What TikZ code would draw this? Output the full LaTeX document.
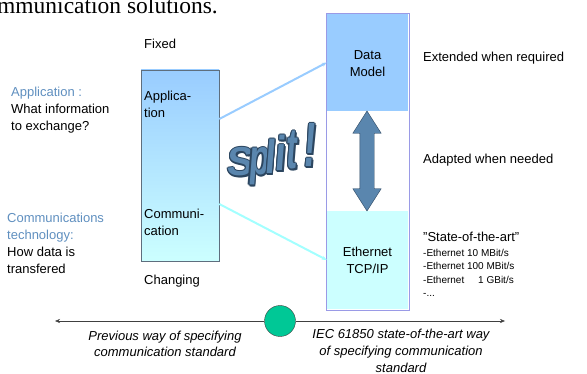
\documentclass[tikz,border=0pt]{standalone}
\usepackage{fontspec}
\setmainfont{Liberation Sans}
\newfontfamily\headfont{Liberation Serif}
\usetikzlibrary{positioning, arrows.meta, shapes.arrows, calc}
\definecolor{appblue}{HTML}{99CCFF}
\definecolor{comcyan}{HTML}{CCFFFF}
\definecolor{labelblue}{HTML}{5F8FBF}
\definecolor{splitblue}{HTML}{5A86AE}
\definecolor{splitdark}{HTML}{2C4660}
\definecolor{boxgray}{HTML}{5E6E7E}
\definecolor{boxlilac}{HTML}{9A9AE6}
\definecolor{pivotgreen}{HTML}{00C896}

\begin{document}
\begin{tikzpicture}[
      x=1pt, y=-1pt,
      every node/.style={font=\fontsize{13}{17}\selectfont, inner sep=0pt},
      label/.style={align=left, anchor=base west},
      small/.style={font=\fontsize{10}{13.6}\selectfont, align=left, anchor=base west},
      caption/.style={font=\fontsize{13}{16.8}\selectfont\itshape, align=center, anchor=base},
      splitletter/.style={font=\fontsize{36}{36}\selectfont\bfseries, anchor=base, xslant=0.08},
      >={Stealth[length=5pt,width=4pt]},
    ]
    \useasboundingbox (0,0) rectangle (587,374);

    % heading line running off the top edge
    \begin{scope}
      \clip (0,0) rectangle (587,374);
      \node[font=\headfont\fontsize{23.5}{28}\selectfont, anchor=base east] (heading)
        at (218,13.3) {communication solutions.};
    \end{scope}

    % old way: one block (multi-line labels sit on their last baseline)
    \node[draw=boxgray, semithick, top color=appblue, bottom color=comcyan,
          minimum width=78pt, minimum height=191pt] (lbox) at (180,165.5) {};
    \node[label] (apptxt) at (144,117.5) {Applica-\\tion};
    \node[label] (comtxt) at (144,236) {Communi-\\cation};
    \node[label] (fixed) at (144,49) {Fixed};
    \node[label] (changing) at (144,284.5) {Changing};

    \node[label] (applbl) at (11,131)
      {\textcolor{labelblue}{Application :}\\What information\\to exchange?};
    \node[label] (comlbl) at (7,274)
      {\textcolor{labelblue}{Communications}\\\textcolor{labelblue}{technology:}\\How data is\\transfered};

    % new way: split stack
    \node[fill=appblue, minimum width=81pt, minimum height=97pt] (dm) at (367.5,62.5) {};
    \node[align=center, anchor=base] (dmtxt) at (367.5,77) {Data\\Model};
    \node[fill=comcyan, minimum width=81pt, minimum height=98pt, align=center] (eth)
      at (367.5,260) {Ethernet\\TCP/IP};
    \node[draw=boxlilac, minimum width=83pt, minimum height=297pt] (stack)
      at (367.5,161.5) {};

    \node[double arrow, rotate=90, fill=splitblue, draw=splitdark, inner sep=7pt,
          minimum height=100pt, double arrow head extend=7pt,
          double arrow tip angle=65] (updown) at (367,161) {};

    \draw[->, appblue, line width=2pt] ($(lbox.east)+(0,-46.5)$) -- (dm.west);
    \draw[->, comcyan!80!cyan, line width=2pt] ($(lbox.east)+(0,38.5)$) -- (eth.west);

    \node[label] (extended) at (423,62) {Extended when required};
    \node[label] (adapted) at (423,164) {Adapted when needed};
    \node[label] (sota) at (423,242) {"State-of-the-art"};
    \node[small] (speeds) at (423,297)
      {-Ethernet 10 MBit/s\\-Ethernet 100 MBit/s\\-Ethernet \hphantom{00}1 GBit/s\\-...};

    % Split! lettering, outlined
    \foreach \ch/\px/\py/\xs/\ys [count=\k] in
        {S/240/176/1.1/1.12, p/258.5/175/0.95/1.39, l/269.5/174/1.05/1.32,
         i/280/171/1.05/1.36, t/291/169/0.9/1.6, !/309/167/1.05/1.74}{
      \foreach \dx/\dy [count=\j] in
          {-1.1/0, 1.1/0, 0/-1.1, 0/1.1, -0.8/-0.8, 0.8/-0.8, -0.8/0.8, 0.8/0.8, 1.6/1.4}
        \node[splitletter, text=splitdark, xscale=\xs, yscale=\ys] (splitrim\k-\j)
          at (\px+\dx,\py+\dy) {\ch};
      \node[splitletter, text=splitblue, xscale=\xs, yscale=\ys] (split\k)
        at (\px,\py) {\ch};
    }

    % time axis
    \node[circle, fill=pivotgreen, draw=darkgray, minimum size=31pt] (pivot) at (280,321) {};
    \coordinate (past) at (55,321);
    \coordinate (future) at (505,321);
    \draw[->, darkgray] (pivot) -- (past);
    \draw[->, darkgray] (pivot) -- (future);

    \node[caption] (prevtxt) at (165,357)
      {Previous way of specifying\\communication standard};
    \node[caption] (iectxt) at (401,372.5)
      {IEC 61850 state-of-the-art way\\of specifying communication\\standard};
  \end{tikzpicture}
\end{document}
